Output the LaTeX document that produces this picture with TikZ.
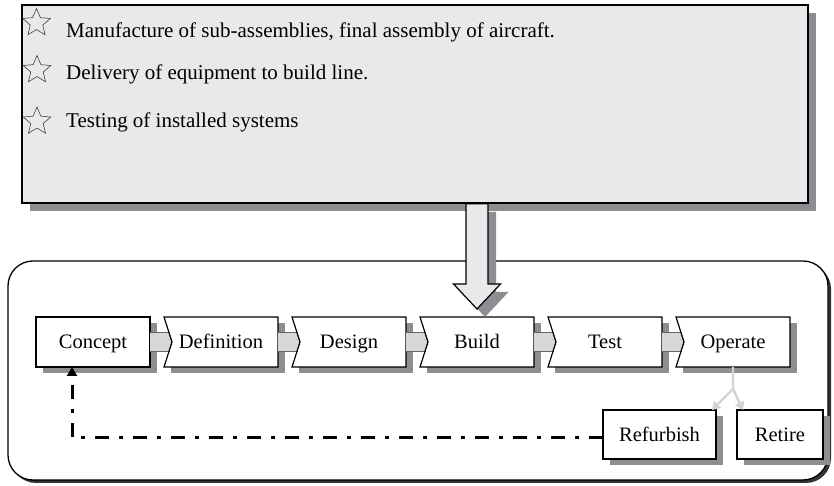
\documentclass[tikz,border=0pt]{standalone}
\usepackage{fontspec}
\setmainfont{Liberation Serif}
\usepackage{xcolor}
\usetikzlibrary{positioning,arrows.meta,shapes.geometric,shadows,calc}
\definecolor{panelgray}{HTML}{E8E9EB}
\definecolor{shadowgray}{HTML}{8D8E91}
\definecolor{shaftgray}{HTML}{D6D7D9}
\definecolor{splitgray}{HTML}{D2D3D5}

\begin{document}
\begin{tikzpicture}[x=1pt, y=1pt,
  font=\fontsize{20.5}{24}\selectfont,
  shade/.style={drop shadow={shadow xshift=#1, shadow yshift=-#1, fill=shadowgray, opacity=1}},
  stepbox/.style={fill=white, minimum width=114pt, minimum height=50pt, inner sep=0pt, outer sep=0pt,
    text height=16pt, text depth=2pt,
    drop shadow={shadow xshift=7pt, shadow yshift=-6pt, fill=shadowgray, opacity=1}},
  boxline/.style={draw, line width=1.2pt, line join=miter},
  shaft/.style={fill=shaftgray, draw=black!60, line width=0.8pt},
  tasktext/.style={anchor=base west, inner sep=0pt, font=\fontsize{21}{24}\selectfont},
  bullet/.style={star, star points=5, star point ratio=2.2, minimum size=29pt, inner sep=0pt, draw=black!75, fill=panelgray, line width=0.6pt},
  split/.style={draw=splitgray, line width=2.4pt, line join=round, -{Triangle[length=8pt, width=10pt]}},
  feedback/.style={line width=3pt, dash pattern=on 14pt off 10pt on 4pt off 10pt, -{Triangle[length=9pt, width=10pt]}}]
\useasboundingbox (0,0) rectangle (834,486);
% ---- life-cycle frame and task panel
\node[draw, line width=1.3pt, rounded corners=25pt, fill=white, minimum width=820pt, minimum height=219pt, inner sep=0pt,
  drop shadow={shadow xshift=3pt, shadow yshift=-3pt, fill=black!80, opacity=1}] (lifecycle) at (418,115.5) {};
\node[draw, line width=1.6pt, fill=panelgray, minimum width=786pt, minimum height=198pt, inner sep=0pt, shade=8pt] (info) at (415,382) {};
\node[tasktext] (task1) at (66,448) {Manufacture of sub-assemblies, final assembly of aircraft.};
\node[tasktext] (task2) at (66,406) {Delivery of equipment to build line.};
\node[tasktext] (task3) at (66,358) {Testing of installed systems};
\node[bullet] (star1) at (36.5,463) {};
\node[bullet] (star2) at (37,416) {};
\node[bullet] (star3) at (37,364.5) {};
% ---- life-cycle steps
\node[stepbox, boxline] (concept) at (93,144) {Concept};
\node[stepbox, right=14pt of concept] (definition) {Definition};
\node[stepbox, right=14pt of definition] (design) {Design};
\node[stepbox, right=14pt of design] (build) {Build};
\node[stepbox, right=14pt of build] (test) {Test};
\node[stepbox, right=14pt of test] (operate) {Operate};
\node[stepbox, boxline, minimum width=113pt, minimum height=49pt] (refurbish) at (659.5,51.5) {Refurbish};
\node[stepbox, boxline, minimum width=86pt, minimum height=49pt, right=21pt of refurbish] (retire) {Retire};
% chevron links between steps
\foreach \a/\b in {concept/definition, definition/design, design/build, build/test, test/operate} {
  \path[shaft] ($(\a.east)+(0,9.5pt)$) -- ($(\b.west)+(5pt,9.5pt)$) -- ($(\b.west)+(8pt,0)$)
    -- ($(\b.west)+(5pt,-9.5pt)$) -- ($(\a.east)+(0,-9.5pt)$);
  \draw[boxline] (\b.north west) -- ($(\b.west)+(8pt,0)$) -- (\b.south west) -- (\b.south east) -- (\b.north east) -- cycle;
}
% ---- big arrow from panel into Build
\coordinate (tip) at ([yshift=8pt]build.north);
\filldraw[fill=panelgray, draw=black, line width=1.2pt, line join=miter, shade=8pt]
  (tip) -- ([shift={(-23.5pt,25pt)}]tip) -- ([shift={(-11pt,25pt)}]tip) -- ([xshift=-11pt]tip |- info.south)
  -- ([xshift=11pt]tip |- info.south) -- ([shift={(11pt,25pt)}]tip) -- ([shift={(23.5pt,25pt)}]tip) -- cycle;
% ---- end of life and feedback
\coordinate (fork) at ([yshift=-22pt]operate.south);
\draw[split] (operate.south) -- (fork) -- ([xshift=-4pt]refurbish.north east);
\draw[split] (fork) -- ([xshift=6pt]retire.north west);
\draw[feedback] ([yshift=-3.5pt]refurbish.west) -| ([xshift=-21pt]concept.south);
\end{tikzpicture}
\end{document}
